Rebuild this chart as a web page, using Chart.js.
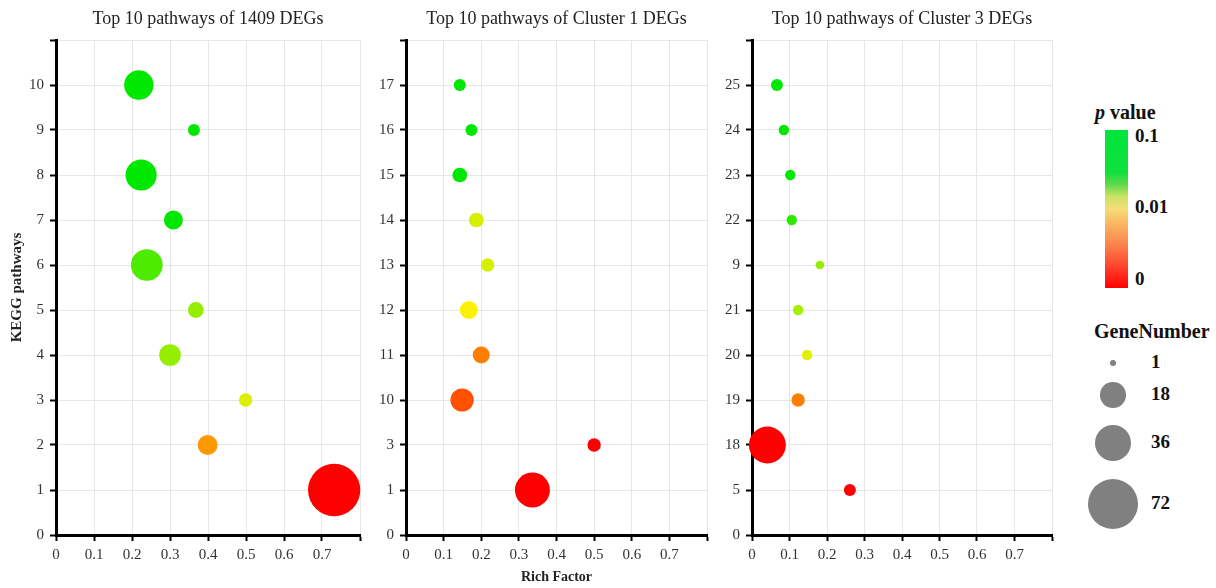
<!DOCTYPE html>
<html>
<head>
<meta charset="utf-8">
<script src="https://cdn.jsdelivr.net/npm/chart.js@4.4.1/dist/chart.umd.min.js"></script>
<style>
  body { margin: 0; background: #fff; width: 1216px; height: 588px; overflow: hidden; position: relative; font-family: "Liberation Serif", serif; }
  canvas { position: absolute; top: 0; }
  .lg { position: absolute; color: #111; font-weight: bold; white-space: nowrap; }
  #bar { position: absolute; left: 1105px; top: 130px; width: 23px; height: 158px;
         background: linear-gradient(to top, #ff0000 0%, #ff3a28 12%, #fb7a48 25%, #f9a85c 37%, #f8dc78 50%, #c8e264 58%, #5cd84a 66%, #10e03c 73%, #00e63c 100%); }
  .dot { position: absolute; background: #808080; border-radius: 50%; }
</style>
</head>
<body>
<canvas id="c1"></canvas>
<canvas id="c2"></canvas>
<canvas id="c3"></canvas>

<div class="lg" style="left:1095px; top:101px; font-size:20px;"><i>p</i> value</div>
<div id="bar"></div>
<div class="lg" style="left:1135px; top:125px; font-size:19px;">0.1</div>
<div class="lg" style="left:1135px; top:196px; font-size:19px;">0.01</div>
<div class="lg" style="left:1135px; top:268px; font-size:19px;">0</div>

<div class="lg" style="left:1094px; top:320px; font-size:20px;">GeneNumber</div>
<div id="sizeLegend"></div>

<script>
// y-axis row labels (pathway ids), bottom to top
const rows1 = ['0', '1', '2', '3', '4', '5', '6', '7', '8', '9', '10'];
const rows2 = ['0', '1', '3', '10', '11', '12', '13', '14', '15', '16', '17'];
const rows3 = ['0', '5', '18', '19', '20', '21', '9', '22', '23', '24', '25'];

// values for rows 1..10
const rich1 = [0.732, 0.399, 0.499, 0.300, 0.368, 0.239, 0.309, 0.224, 0.363, 0.218];
const genes1 = [76, 11, 5, 13, 7, 28, 10, 27, 4, 24];
const pval1 = [0.0001, 0.0046, 0.0126, 0.02, 0.02, 0.028, 0.05, 0.07, 0.07, 0.08];

const rich2 = [0.336, 0.500, 0.149, 0.200, 0.167, 0.217, 0.187, 0.143, 0.174, 0.143];
const genes2 = [34, 5, 15, 8, 9, 5, 6, 6, 4, 4];
const pval2 = [0.0001, 0.0005, 0.0023, 0.0036, 0.01, 0.013, 0.013, 0.06, 0.06, 0.06];

const rich3 = [0.261, 0.041, 0.123, 0.147, 0.123, 0.181, 0.106, 0.102, 0.085, 0.0665];
const genes3 = [4, 38, 5, 3, 3, 2, 3, 3, 3, 4];
const pval3 = [0.0005, 0.0001, 0.0036, 0.012, 0.018, 0.02, 0.033, 0.045, 0.06, 0.06];

const legendGenes = [1, 18, 36, 72];

const K = 3; // bubble radius = K * sqrt(gene number)
const FONT = 'Liberation Serif';

// colour along the p value bar (log scale, 0.001 .. 0.1)
const stops = [[0, [255, 0, 0]], [0.3, [255, 135, 0]], [0.5, [250, 242, 0]], [0.65, [150, 238, 0]], [0.8, [0, 232, 0]], [1, [0, 232, 0]]];
function pColor(p) {
  const t = Math.min(1, Math.max(0, (Math.log10(p) + 3) / 2));
  for (let i = 1; i < stops.length; i++) {
    if (t <= stops[i][0]) {
      const [t0, c0] = stops[i - 1], [t1, c1] = stops[i];
      const f = (t - t0) / (t1 - t0);
      const c = c0.map((v, k) => Math.round(v + (c1[k] - v) * f));
      return `rgb(${c[0]},${c[1]},${c[2]})`;
    }
  }
  return 'rgb(0,232,0)';
}

function makeChart(id, o) {
  const cv = document.getElementById(id);
  cv.width = o.right - o.left;
  cv.height = 588;
  cv.style.left = o.left + 'px';
  const pts = o.rich.map((x, i) => ({ x: x, y: i + 1, r: K * Math.sqrt(o.genes[i]) }));
  const grid = { color: '#e6e6e6', lineWidth: 1, tickColor: '#000', tickLength: 6, tickWidth: 2 };
  const border = { color: '#000', width: 3 };
  const tickFont = { family: FONT, size: 15 };
  return new Chart(cv, {
    type: 'bubble',
    data: { datasets: [{ data: pts, backgroundColor: o.p.map(pColor), borderWidth: 0, clip: false }] },
    options: {
      responsive: false,
      animation: false,
      events: [],
      layout: { padding: { left: 0, right: o.right - o.plotRight, top: 0, bottom: 0 } },
      plugins: {
        legend: { display: false },
        tooltip: { enabled: false },
        title: {
          display: true, text: o.title, fullSize: false, color: '#222',
          font: { family: FONT, size: 18, weight: 'normal' },
          padding: { top: 8, bottom: 10.4 }
        }
      },
      scales: {
        x: {
          type: 'linear', min: 0, max: 0.8,
          ticks: {
            stepSize: 0.1, autoSkip: false, maxRotation: 0, color: '#333', font: tickFont, padding: 5,
            callback: v => { const r = Math.round(v * 10) / 10; return r >= 0.8 ? '' : (r === 0 ? '0' : r.toFixed(1)); }
          },
          grid: grid, border: border,
          title: { display: !!o.xTitle, text: o.xTitle, color: '#222', font: { family: FONT, size: 14, weight: 'bold' }, padding: { top: 0, bottom: 2.6 } },
          afterFit: s => { s.height = 53; }
        },
        y: {
          type: 'linear', min: 0, max: 11,
          ticks: {
            stepSize: 1, autoSkip: false, color: '#333', font: tickFont, padding: 6,
            callback: v => o.rows[v] !== undefined ? o.rows[v] : ''
          },
          grid: grid, border: border,
          title: { display: !!o.yTitle, text: o.yTitle, color: '#222', font: { family: FONT, size: 15, weight: 'bold' }, padding: { top: 8, bottom: 0 } },
          afterFit: s => { s.width = o.plotLeft - o.left; }
        }
      }
    }
  });
}

makeChart('c1', { title: 'Top 10 pathways of 1409 DEGs', rows: rows1, rich: rich1, genes: genes1, p: pval1,
  left: 0, plotLeft: 56, plotRight: 360, right: 396, yTitle: 'KEGG pathways', xTitle: '' });
makeChart('c2', { title: 'Top 10 pathways of Cluster 1 DEGs', rows: rows2, rich: rich2, genes: genes2, p: pval2,
  left: 376, plotLeft: 406, plotRight: 707, right: 740, yTitle: '', xTitle: 'Rich Factor' });
makeChart('c3', { title: 'Top 10 pathways of Cluster 3 DEGs', rows: rows3, rich: rich3, genes: genes3, p: pval3,
  left: 722, plotLeft: 752, plotRight: 1052, right: 1085, yTitle: '', xTitle: '' });

// gene number size legend
const sizeY = [363, 395, 443, 504];
const holder = document.getElementById('sizeLegend');
legendGenes.forEach((g, i) => {
  const r = K * Math.sqrt(g);
  const d = document.createElement('div');
  d.className = 'dot';
  d.style.cssText = `left:${1113 - r}px; top:${sizeY[i] - r}px; width:${2 * r}px; height:${2 * r}px;`;
  holder.appendChild(d);
  const t = document.createElement('div');
  t.className = 'lg';
  t.style.cssText = `left:1151px; top:${sizeY[i] - 12}px; font-size:19px;`;
  t.textContent = g;
  holder.appendChild(t);
});
</script>
</body>
</html>
